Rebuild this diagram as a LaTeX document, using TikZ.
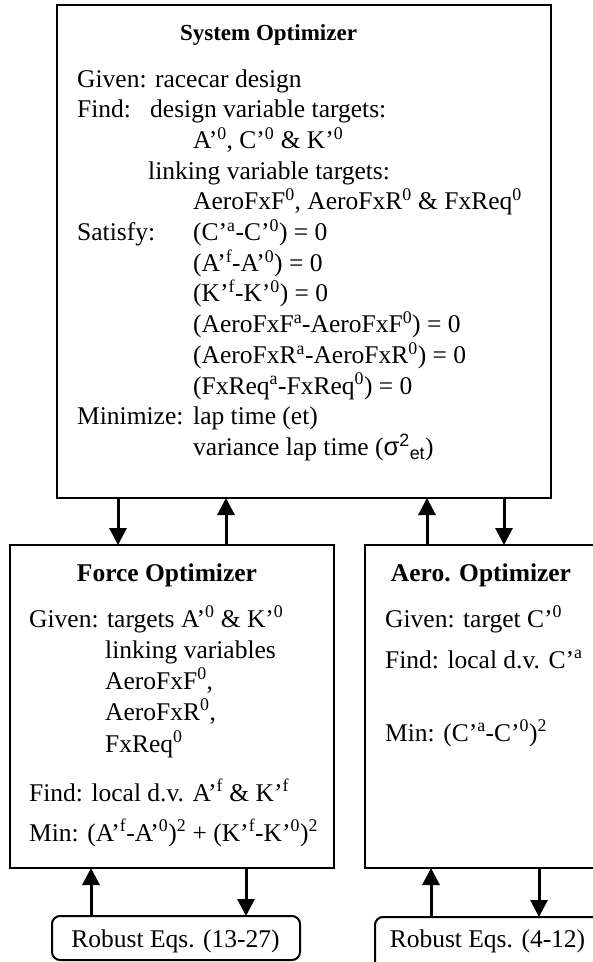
\documentclass[tikz,border=0pt]{standalone}
\usepackage{fontspec}
\setmainfont{Liberation Serif}
\newfontfamily\sansgr{Liberation Sans}
\usetikzlibrary{arrows.meta}
\newcommand\bodyfont{\fontsize{25.5pt}{30pt}\selectfont}
\newcommand\ttlfont{\fontsize{25.5pt}{30pt}\selectfont\bfseries}
\newcommand\systtlfont{\fontsize{23pt}{28pt}\selectfont\bfseries}
\tikzset{
  box/.style={draw, line width=2pt, inner sep=0pt, outer sep=0pt},
  robbox/.style={box, rounded corners=8pt},
  arr/.style={line width=3pt, -{Triangle[width=17pt,length=17pt]}},
  txt/.style={anchor=base west, inner sep=0pt, font=\bodyfont},
  ttl/.style={anchor=base, inner sep=0pt, font=\ttlfont},
}
\begin{document}
\begin{tikzpicture}[x=1pt, y=-1pt]
\clip (0,0) rectangle (593,962);

% optimizer boxes
\node[box, minimum width=494pt, minimum height=493pt] (sys) at (304,251.5) {};
\node[box, minimum width=324pt, minimum height=323pt] (force) at (172,706.5) {};
\node[box, minimum width=240pt, minimum height=323pt] (aero) at (485,706.5) {};
\node[robbox, minimum width=248pt, minimum height=44pt] (rob1) at (176,938) {};
\node[robbox, minimum width=236pt, minimum height=62pt] (rob2) at (493,948) {};

% system optimizer text
\node[anchor=base, inner sep=0pt, font=\systtlfont] (systitle) at (268.5,40) {System Optimizer};
\node[txt] (s1) at (77,87) {Given: racecar design};
\node[txt] (s2) at (77,117.7) {Find:};
\node[txt] (s2b) at (150,117.7) {design variable targets:};
\node[txt] (s3) at (193,148.4) {A’\textsuperscript{0}, C’\textsuperscript{0} \& K’\textsuperscript{0}};
\node[txt] (s4) at (148,179.1) {linking variable targets:};
\node[txt] (s5) at (193,209.8) {AeroFxF\textsuperscript{0}, AeroFxR\textsuperscript{0} \& FxReq\textsuperscript{0}};
\node[txt] (s6) at (77,240.5) {Satisfy:};
\node[txt] (s6b) at (193,240.5) {(C’\textsuperscript{a}-C’\textsuperscript{0}) = 0};
\node[txt] (s7) at (193,271.2) {(A’\textsuperscript{f}-A’\textsuperscript{0}) = 0};
\node[txt] (s8) at (193,301.9) {(K’\textsuperscript{f}-K’\textsuperscript{0}) = 0};
\node[txt] (s9) at (193,332.6) {(AeroFxF\textsuperscript{a}-AeroFxF\textsuperscript{0}) = 0};
\node[txt] (s10) at (193,363.3) {(AeroFxR\textsuperscript{a}-AeroFxR\textsuperscript{0}) = 0};
\node[txt] (s11) at (193,394) {(FxReq\textsuperscript{a}-FxReq\textsuperscript{0}) = 0};
\node[txt] (s12) at (77,424.7) {Minimize:};
\node[txt] (s12b) at (193,424.7) {lap time (et)};
\node[txt] (s13) at (193,455.4) {variance lap time ({\sansgr σ\textsuperscript{2}\textsubscript{et}})};

% force optimizer text
\node[ttl] (forcetitle) at (167,581) {Force Optimizer};
\node[txt] (f1) at (29,627) {Given: targets A’\textsuperscript{0} \& K’\textsuperscript{0}};
\node[txt] (f2) at (105,658) {linking variables};
\node[txt] (f3) at (105,689) {AeroFxF\textsuperscript{0},};
\node[txt] (f4) at (105,720) {AeroFxR\textsuperscript{0},};
\node[txt] (f5) at (105,752) {FxReq\textsuperscript{0}};
\node[txt] (f6) at (29,801) {Find: local d.v. A’\textsuperscript{f} \& K’\textsuperscript{f}};
\node[txt] (f7) at (29,841) {Min: (A’\textsuperscript{f}-A’\textsuperscript{0})\textsuperscript{2} + (K’\textsuperscript{f}-K’\textsuperscript{0})\textsuperscript{2}};

% aero optimizer text
\node[ttl] (aerotitle) at (481,581) {Aero. Optimizer};
\node[txt] (a1) at (385,627) {Given: target C’\textsuperscript{0}};
\node[txt] (a2) at (385,668) {Find: local d.v. C’\textsuperscript{a}};
\node[txt] (a3) at (385,741) {Min: (C’\textsuperscript{a}-C’\textsuperscript{0})\textsuperscript{2}};

% analysis models
\node[txt, anchor=base] (r1) at (175.5,947) {Robust Eqs. (13-27)};
\node[txt, anchor=base] (r2) at (487.5,947) {Robust Eqs. (4-12)};

% target / response flows
\draw[arr] (sys.south -| 118,0) -- (force.north -| 118,0);
\draw[arr] (force.north -| 226,0) -- (sys.south -| 226,0);
\draw[arr] (aero.north -| 427,0) -- (sys.south -| 427,0);
\draw[arr] (sys.south -| 504,0) -- (aero.north -| 504,0);
\draw[arr] (rob1.north -| 91,0) -- (force.south -| 91,0);
\draw[arr] (force.south -| 246,0) -- (rob1.north -| 246,0);
\draw[arr] (rob2.north -| 431,0) -- (aero.south -| 431,0);
\draw[arr] (aero.south -| 539,0) -- (rob2.north -| 539,0);
\end{tikzpicture}
\end{document}
